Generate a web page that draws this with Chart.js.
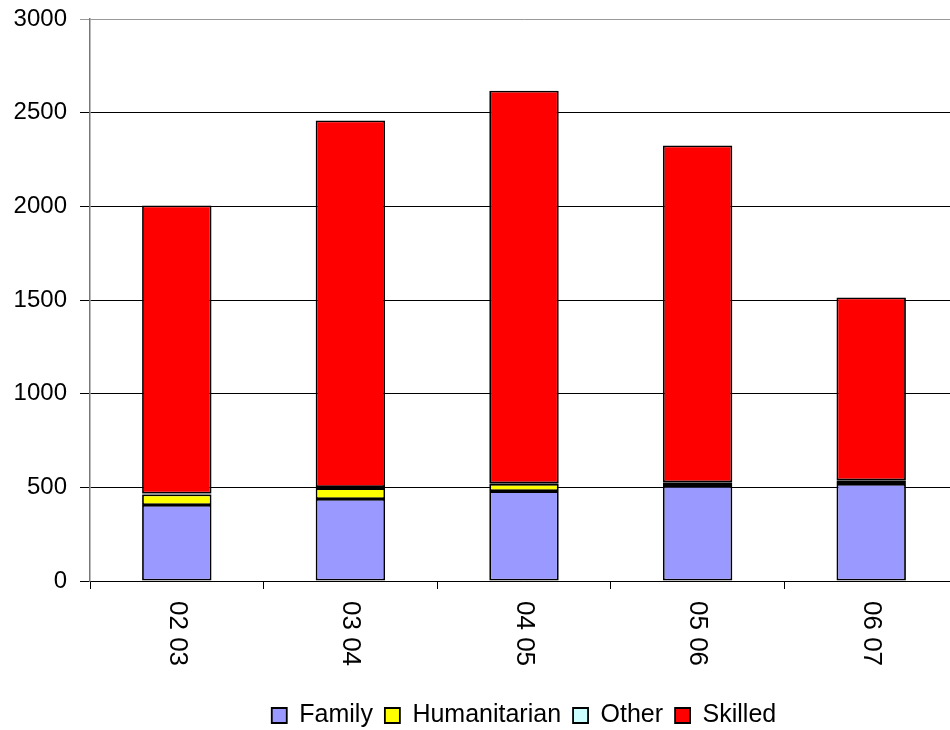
<!DOCTYPE html>
<html>
<head>
<meta charset="utf-8">
<script src="https://cdn.jsdelivr.net/npm/chart.js@4"></script>
<style>
  html, body { margin: 0; padding: 0; background: #fff; overflow: hidden; }
  #wrap { width: 960px; height: 730px; }
</style>
</head>
<body>
<div id="wrap"><canvas id="visaChart"></canvas></div>
<script>
const years = ['02 03', '03 04', '04 05', '05 06', '06 07'];
const family = [406, 438, 480, 507, 518];
const humanitarian = [56, 58, 38, 16, 16];
const other = [5, 5, 4, 4, 4];
const skilled = [1538, 1957, 2095, 1798, 975];
const yTicks = [0, 500, 1000, 1500, 2000, 2500, 3000];

const FONT = '"Liberation Sans", Arial, sans-serif';

// x labels read top-to-bottom, so draw them rotated clockwise at the scale's tick positions
const rotatedLabels = {
  id: 'rotatedLabels',
  afterDraw(chart) {
    const x = chart.scales.x;
    const ctx = chart.ctx;
    ctx.save();
    ctx.font = '26px ' + FONT;
    ctx.fillStyle = '#000';
    ctx.textAlign = 'left';
    ctx.textBaseline = 'middle';
    years.forEach((label, i) => {
      ctx.save();
      ctx.translate(x.getPixelForValue(i), x.top + 20);
      ctx.rotate(Math.PI / 2);
      ctx.fillText(label, 0, 0);
      ctx.restore();
    });
    ctx.restore();
  }
};

const ctx = document.getElementById('visaChart').getContext('2d');
const visaChart = new Chart(ctx, {
  type: 'bar',
  data: {
    labels: years,
    datasets: [
      { label: 'Family', data: family, backgroundColor: '#9999FF' },
      { label: 'Humanitarian', data: humanitarian, backgroundColor: '#FFFF00' },
      { label: 'Other', data: other, backgroundColor: '#CCFFFF' },
      { label: 'Skilled', data: skilled, backgroundColor: '#FF0000' }
    ].map(d => Object.assign(d, {
      borderColor: '#000',
      borderWidth: 1.8,
      borderSkipped: false,
      barPercentage: 0.4,
      categoryPercentage: 1
    }))
  },
  options: {
    responsive: true,
    maintainAspectRatio: false,
    animation: false,
    layout: { padding: { top: 19, right: 2, left: 0, bottom: -8 } },
    plugins: {
      tooltip: { enabled: false },
      legend: {
        position: 'bottom',
        fullSize: false,
        labels: {
          font: { family: FONT, size: 25 },
          color: '#000',
          boxWidth: 15,
          boxHeight: 15,
          padding: 12
        }
      }
    },
    scales: {
      x: {
        stacked: true,
        offset: true,
        grid: { display: true, drawOnChartArea: false, color: '#000', tickLength: 8, offset: true },
        border: { color: '#000', width: 1 },
        ticks: { display: false },
        afterFit(scale) { scale.height = 110; }
      },
      y: {
        stacked: true,
        min: 0,
        max: 3000,
        afterBuildTicks(scale) { scale.ticks = yTicks.map(v => ({ value: v })); },
        afterFit(scale) {
          scale.width = 90;
          scale.paddingTop = 0;
          scale.paddingBottom = 0;
        },
        grid: { color: ctx => ctx.tick.value === 3000 ? '#999' : '#000', lineWidth: 1, tickLength: 10 },
        border: { color: '#777', width: 1.5 },
        ticks: {
          font: { family: FONT, size: 24 },
          color: '#000',
          padding: 13,
          callback: v => String(v)
        }
      }
    }
  },
  plugins: [rotatedLabels]
});
</script>
</body>
</html>
